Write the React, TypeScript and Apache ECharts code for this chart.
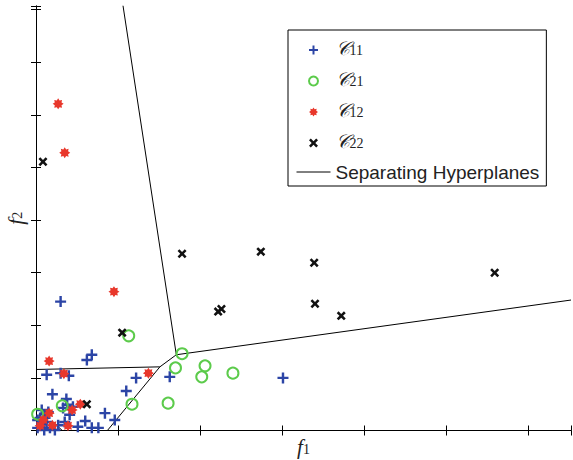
import React, { useEffect, useRef } from "react";
import * as echarts from "echarts";

// Feature-space points (f1, f2) in axis units (tick spacing = 1)
const c11: number[][] = [
  [0.30, 2.45], [0.62, 1.34], [0.68, 1.44], [0.13, 1.06], [0.30, 1.09], [0.40, 1.04],
  [1.22, 1.00], [1.63, 1.02], [3.01, 1.00], [1.10, 0.75], [0.84, 0.33], [0.96, 0.20],
  [0.20, 0.69], [0.37, 0.60], [0.38, 0.49], [0.33, 0.43], [0.45, 0.45], [0.68, 0.05],
  [0.60, 0.18], [0.76, 0.05], [0.51, 0.07], [0.35, 0.16], [0.41, 0.30],
  [0.02, 0.05], [0.07, 0.12], [0.11, 0.24], [0.05, 0.24], [0.15, 0.35], [0.10, 0.01],
  [0.17, 0.05], [0.02, 0.20], [0.13, 0.16], [0.07, 0.39], [0.23, 0.01], [0.27, 0.10],
];
const c21: number[][] = [
  [1.13, 1.80], [1.78, 1.46], [1.70, 1.19], [2.06, 1.23], [2.02, 1.02], [2.40, 1.09],
  [1.17, 0.50], [1.61, 0.52], [0.32, 0.47], [0.02, 0.31],
];
const c12: number[][] = [
  [0.27, 6.21], [0.35, 5.28], [0.95, 2.64], [0.16, 1.32], [1.37, 1.09], [0.34, 1.08],
  [0.54, 0.50], [0.16, 0.33], [0.44, 0.39], [0.39, 0.09], [0.20, 0.10], [0.09, 0.20],
  [0.05, 0.09],
];
const c22: number[][] = [
  [0.085, 5.11], [1.78, 3.36], [2.74, 3.40], [3.39, 3.19], [5.59, 3.00], [2.22, 2.26],
  [2.26, 2.31], [3.40, 2.41], [3.72, 2.18], [1.05, 1.86], [0.62, 0.50],
];
const hyperplaneA: number[][] = [[1.06, 8.08], [1.71, 1.44], [6.52, 2.48]];
const hyperplaneB: number[][] = [[1.71, 1.44], [1.51, 1.21], [0.87, 0]];
const hyperplaneC: number[][] = [[0, 1.16], [1.51, 1.21]];
const hyperplaneD: number[][] = [[0.21, 0.16], [0.32, 0]];

const seriesNames = ["C11", "C21", "C12", "C22", "Separating Hyperplanes"];
const legendSubs: Record<string, string> = { C11: "11", C21: "21", C12: "12", C22: "22" };

const X_MAX = 6.52;
const Y_MAX = 8.07;

const PLUS = "path://M3.9 0H6.1V3.9H10V6.1H6.1V10H3.9V6.1H0V3.9H3.9Z";
const CROSS = "path://M0 2L2 0L5 3L8 0L10 2L7 5L10 8L8 10L5 7L2 10L0 8L3 5Z";
const STAR =
  "path://M10 5L8.05 6.26L8.54 8.54L6.26 8.05L5 10L3.74 8.05L1.46 8.54L1.95 6.26L0 5L1.95 3.74L1.46 1.46L3.74 1.95L5 0L6.26 1.95L8.54 1.46L8.05 3.74Z";

export default function App() {
  const ref = useRef<HTMLDivElement>(null);
  useEffect(() => {
    if (!ref.current) return;
    const chart = echarts.init(ref.current, null, { renderer: "svg" });
    const axisCommon = {
      type: "value" as const,
      interval: 1,
      axisLine: { show: true, lineStyle: { color: "#000", width: 1 } },
      axisTick: { show: true, inside: true, length: 5, lineStyle: { color: "#000" } },
      axisLabel: { show: false },
      splitLine: { show: false },
    };
    const nameRich = {
      a: { fontFamily: "Liberation Serif", fontStyle: "italic", fontSize: 21, color: "#222", padding: [0, 0, 4, 0] },
      b: { fontFamily: "Liberation Serif", fontSize: 14, color: "#222" },
    };
    const lineSeries = (data: number[][]) => ({
      name: seriesNames[4],
      type: "line",
      data,
      symbol: "none",
      showSymbol: false,
      lineStyle: { color: "#000", width: 1 },
      itemStyle: { color: "#000" },
      z: 1,
    });
    chart.setOption({
      animation: false,
      grid: { left: 36, top: 6, right: 2, bottom: 29.5, containLabel: false, outerBoundsMode: "none" },
      xAxis: [
        {
          ...axisCommon,
          min: 0,
          max: X_MAX,
          name: "{a|f}{b|1}",
          nameLocation: "middle",
          nameGap: 6,
          nameTextStyle: { rich: nameRich },
        },
        { ...axisCommon, min: 0, max: X_MAX, position: "top" },
      ],
      yAxis: [
        {
          ...axisCommon,
          min: 0,
          max: Y_MAX,
          name: "{a|f}{b|2}",
          nameLocation: "middle",
          nameGap: 6,
          nameTextStyle: { rich: nameRich },
        },
        { ...axisCommon, min: 0, max: Y_MAX, position: "right" },
      ],
      legend: {
        orient: "vertical",
        left: 288,
        top: 30,
        padding: [8, 7, 4, 8],
        itemGap: 7,
        itemWidth: 34,
        itemHeight: 9,
        borderColor: "#000",
        borderWidth: 1,
        backgroundColor: "#fff",
        data: [
          seriesNames[0],
          seriesNames[1],
          seriesNames[2],
          seriesNames[3],
          {
            name: seriesNames[4],
            itemStyle: { opacity: 0 },
            lineStyle: { color: "#000", width: 1, opacity: 1 },
          },
        ],
        formatter: (name: string) =>
          legendSubs[name] ? `{c|𝒞}{s|${legendSubs[name]}}` : `{t|${name}}`,
        textStyle: {
          color: "#222",
          lineHeight: 20,
          rich: {
            c: { fontFamily: "DejaVu Serif", fontStyle: "italic", fontSize: 19, color: "#222", lineHeight: 20, padding: [0, 0, 5, 0] },
            s: { fontFamily: "Liberation Serif", fontSize: 14, color: "#222", lineHeight: 14 },
            t: { fontFamily: "Liberation Sans", fontSize: 19, color: "#222", lineHeight: 20 },
          },
        },
      },
      series: [
        lineSeries(hyperplaneA),
        lineSeries(hyperplaneB),
        lineSeries(hyperplaneC),
        lineSeries(hyperplaneD),
        {
          name: seriesNames[0],
          type: "scatter",
          data: c11,
          symbol: PLUS,
          symbolSize: 11,
          itemStyle: { color: "#2c45a6", opacity: 1 },
          z: 3,
        },
        {
          name: seriesNames[1],
          type: "scatter",
          data: c21,
          symbol: "circle",
          symbolSize: 11,
          itemStyle: { color: "rgba(0,0,0,0)", borderColor: "#5ccb4b", borderWidth: 2, opacity: 1 },
          z: 3,
        },
        {
          name: seriesNames[2],
          type: "scatter",
          data: c12,
          symbol: STAR,
          symbolSize: 11,
          itemStyle: { color: "#e8372b", opacity: 1 },
          z: 3,
        },
        {
          name: seriesNames[3],
          type: "scatter",
          data: c22,
          symbol: CROSS,
          symbolSize: 9,
          itemStyle: { color: "#111", opacity: 1 },
          z: 4,
        },
      ],
    });
    return () => chart.dispose();
  }, []);
  return (
    <div
      ref={ref}
      style={{ position: "fixed", left: 0, top: 0, width: 573, height: 460, background: "#fff" }}
    />
  );
}
